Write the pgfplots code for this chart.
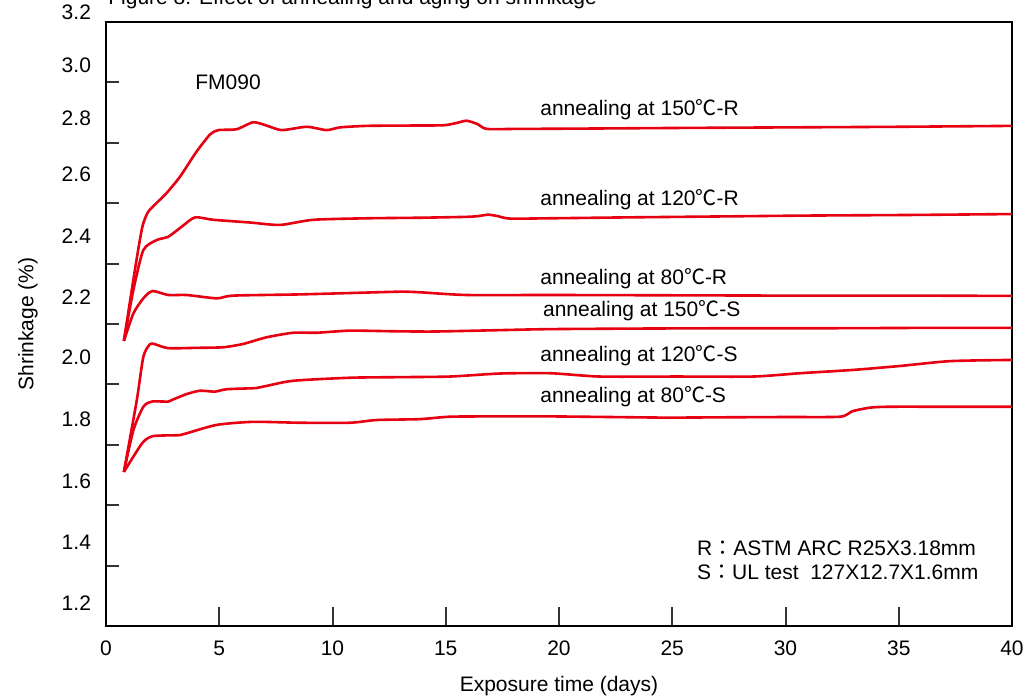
\documentclass[border=0pt]{standalone}
\usepackage{fontspec}
\setmainfont{Liberation Sans}
\newfontfamily\cjk{Noto Sans CJK JP}
\usepackage{pgfplots}
\pgfplotsset{compat=1.18}
\definecolor{curvered}{RGB}{230,0,18}
\newcommand{\degC}{{\cjk ℃}}
\newcommand{\fs}{\fontsize{10.5}{12.6}\selectfont}

\begin{document}
\begin{tikzpicture}[font=\fs]
\begin{axis}[name=ax, at={(0,0)}, anchor=south west,
  scale only axis, width=453pt, height=302pt,
  xmin=0, xmax=40, ymin=1.2, ymax=3.2,
  xtick={0,5,10,15,20,25,30,35,40},
  ytick={1.2,1.4,1.6,1.8,2.0,2.2,2.4,2.6,2.8,3.0,3.2},
  % the tick labels sit a little above their ticks, as in the original
  yticklabels={{\raisebox{7.8pt}{1.2}},{\raisebox{7.8pt}{1.4}},{\raisebox{8.3pt}{1.6}},
    {\raisebox{9.3pt}{1.8}},{\raisebox{9.8pt}{2.0}},{\raisebox{9.8pt}{2.2}},
    {\raisebox{9.8pt}{2.4}},{\raisebox{10.8pt}{2.6}},{\raisebox{8.8pt}{2.8}},
    {\raisebox{4.8pt}{3.0}},{\raisebox{1.3pt}{3.2}}},
  tick pos=left, tick align=inside,
  /pgf/number format/assume math mode=true,
  tick label style={font=\fs},
  xticklabel style={yshift=-3.75pt},
  yticklabel style={anchor=base east, xshift=-4pt},
  xtick style={draw=black!80, line width=1pt, /pgfplots/major tick length=9.5pt},
  ytick style={draw=black!80, line width=1pt, /pgfplots/major tick length=6.5pt},
  axis line style={line width=1.35pt},
  xlabel={Exposure time (days)},
  ylabel={Shrinkage (\%)},
  label style={font=\fs},
  every axis x label/.style={at={(axis description cs:0.5,-0.0993)}, anchor=center},
  every axis y label/.style={at={(axis description cs:-0.0861,0.5)}, anchor=center, rotate=90},
  curve/.style={curvered, line width=1.3pt, smooth, tension=0.4, mark=none, solid},
]
% annealing at 150 C - R
\addplot[curve] coordinates {(0.79,2.144) (1.30,2.39) (1.60,2.52) (1.85,2.570) (2.24,2.601)
  (2.68,2.634) (3.27,2.688) (4.00,2.771) (4.60,2.828) (4.96,2.842) (5.77,2.845)
  (6.50,2.868) (7.09,2.857) (7.76,2.842) (8.86,2.853) (9.74,2.842) (10.33,2.851)
  (11.51,2.856) (13.2,2.857) (14.89,2.858) (15.50,2.866) (15.92,2.873) (16.4,2.862)
  (16.81,2.846) (18.2,2.846) (21,2.847) (25,2.849) (30,2.851) (35,2.853) (40,2.856)};
% annealing at 120 C - R
\addplot[curve] coordinates {(0.79,2.144) (1.21,2.313) (1.65,2.445) (2.24,2.478) (2.75,2.489)
  (3.34,2.522) (3.93,2.553) (4.74,2.545) (6.36,2.536) (7.68,2.528) (9.15,2.545)
  (11.51,2.550) (14.0,2.552) (16.0,2.555) (16.5,2.558) (16.88,2.562) (17.3,2.557)
  (17.84,2.549) (19.60,2.550) (23,2.553) (27,2.556) (31,2.559) (35.5,2.561) (40,2.564)};
% annealing at 80 C - R
\addplot[curve] coordinates {(0.79,2.144) (1.21,2.235) (1.65,2.285) (2.05,2.309) (2.75,2.296)
  (3.56,2.296) (4.89,2.285) (5.62,2.294) (8.57,2.298) (11.0,2.303) (12.98,2.307)
  (13.86,2.305) (15.92,2.296) (19.60,2.296) (25,2.295) (30,2.294) (35,2.294) (40,2.293)};
% annealing at 150 C - S
\addplot[curve] coordinates {(0.79,1.710) (1.36,1.948) (1.65,2.092) (1.94,2.133) (2.16,2.133)
  (2.75,2.120) (4.0,2.121) (5.18,2.123) (6.06,2.134) (7.09,2.156) (8.27,2.171) (9.30,2.171)
  (10.77,2.178) (12.6,2.176) (14.45,2.175) (17.0,2.179) (19.60,2.183) (24,2.185)
  (28,2.186) (32,2.186) (36,2.187) (40,2.187)};
% annealing at 120 C - S
\addplot[curve] coordinates {(0.79,1.710) (1.21,1.849) (1.65,1.926) (2.02,1.943) (2.75,1.943)
  (2.90,1.948) (3.56,1.968) (4.15,1.979) (4.81,1.976) (5.33,1.984) (6.65,1.988)
  (7.09,1.995) (8.27,2.012) (10.77,2.022) (13.0,2.024) (15.19,2.026) (17.40,2.036)
  (19.60,2.037) (21.81,2.026) (25.2,2.026) (28.58,2.026) (30.64,2.037) (33.0,2.048)
  (35.06,2.061) (37.26,2.077) (40,2.081)};
% annealing at 80 C - S
\addplot[curve] coordinates {(0.79,1.710) (1.21,1.761) (1.65,1.810) (2.09,1.829) (3.27,1.832)
  (3.56,1.838) (4.89,1.866) (6.50,1.876) (8.57,1.873) (10.77,1.873) (11.95,1.882)
  (13.86,1.885) (15.19,1.893) (17.4,1.894) (19.60,1.894) (22.2,1.892) (24.75,1.890)
  (27.3,1.891) (30.0,1.892) (32.41,1.893) (32.95,1.911) (33.73,1.923) (34.6,1.926)
  (37.3,1.926) (40,1.926)};

\node[anchor=base west, inner sep=0] at (axis cs:3.93,2.975) {FM090};
\node[anchor=base west, inner sep=0] at (axis cs:19.16,2.892) {annealing at 150\degC-R};
\node[anchor=base west, inner sep=0] at (axis cs:19.16,2.591) {annealing at 120\degC-R};
\node[anchor=base west, inner sep=0] at (axis cs:19.16,2.332) {annealing at 80\degC-R};
\node[anchor=base west, inner sep=0] at (axis cs:19.28,2.224) {annealing at 150\degC-S};
\node[anchor=base west, inner sep=0] at (axis cs:19.16,2.075) {annealing at 120\degC-S};
\node[anchor=base west, inner sep=0] at (axis cs:19.16,1.939) {annealing at 80\degC-S};
\node[anchor=base west, inner sep=0] at (axis cs:26.08,1.435) {R{\cjk ：}ASTM ARC R25X3.18mm};
\node[anchor=base west, inner sep=0] at (axis cs:26.08,1.355) {S{\cjk ：}UL test\ \ 127X12.7X1.6mm};
\end{axis}
% the title runs past the top edge of the picture, as in the reference
\node[anchor=base west, inner sep=0] at ([shift={(1pt,310.5pt)}]ax.south west) {Figure 8: Effect of annealing and aging on shrinkage};
\pgfresetboundingbox
\path[use as bounding box] ([shift={(-53pt,-36.5pt)}]ax.south west) rectangle ([shift={(458.5pt,313pt)}]ax.south west);
\end{tikzpicture}
\end{document}
